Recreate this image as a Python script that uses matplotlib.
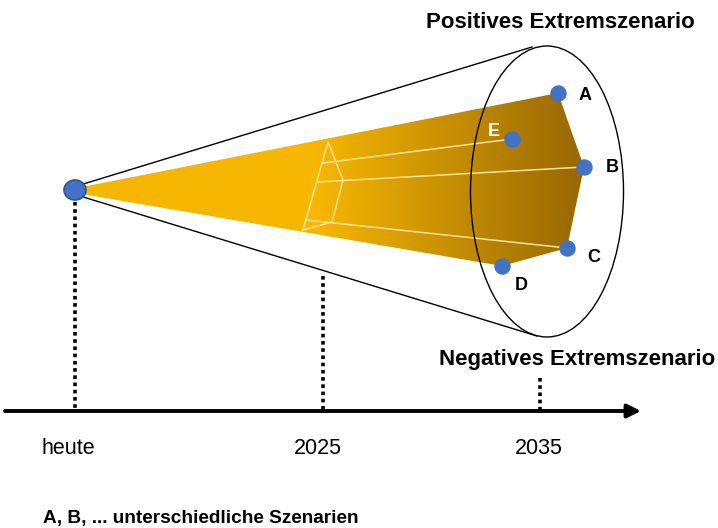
import matplotlib
matplotlib.use('Agg')
import matplotlib.pyplot as plt
import numpy as np
from matplotlib.patches import Polygon, Ellipse

plt.rcParams['font.family'] = ['Liberation Sans', 'DejaVu Sans']

# scenario end points (pixel space of the diagram)
scen_labels = ['A', 'B', 'C', 'D', 'E']
scen_x = [558, 584, 567, 502, 512]
scen_y = [93, 167, 248, 266, 139]
lab_x = [585, 612, 594, 521, 494]
lab_y = [96, 168, 257, 286, 131]
lab_col = ['black', 'black', 'black', 'black', 'white']

# time axis
time_labels = ['heute', '2025', '2035']
time_x = [75, 323, 540]
time_lab_x = [68, 318, 539]
dot_top = [202, 276, 378]
axis_y = 411

origin = (75, 190)

# funnel body (gold area)
body_x = [82, 558, 584, 567, 502, 82]
body_y = [187, 93, 167, 248, 266, 194]

# cross section at 2025 + lines to scenarios
sect_x = [303, 328, 343, 332, 303]
sect_y = [230, 142, 180, 222, 230]
ray_start_x = [323, 317, 306]
ray_start_y = [163, 182, 220]
ray_end = ['E', 'B', 'C']

fig = plt.figure(figsize=(7.18, 5.28), dpi=100)
ax = fig.add_axes([0, 0, 1, 1])
ax.set_xlim(0, 718)
ax.set_ylim(528, 0)
ax.axis('off')

# gradient fill clipped to the body polygon
xs = np.linspace(0, 718, 718)
c1 = np.array([247, 183, 0]) / 255
c2 = np.array([148, 101, 4]) / 255
t = np.clip((xs - 315) / (592 - 315), 0, 1)
row = c1[None, :] * (1 - t[:, None]) + c2[None, :] * t[:, None]
img = np.repeat(row[None, :, :], 2, axis=0)
im = ax.imshow(img, extent=(0, 718, 528, 0), aspect='auto', zorder=1)
body = Polygon(np.column_stack([body_x, body_y]), closed=True,
               facecolor='none', edgecolor='none')
ax.add_patch(body)
im.set_clip_path(body)

# white construction lines
ax.plot(sect_x, sect_y, color='#FFE39A', lw=1.1, zorder=2)
for sx, sy, name in zip(ray_start_x, ray_start_y, ray_end):
    i = scen_labels.index(name)
    ax.plot([sx, scen_x[i]], [sy, scen_y[i]], color='#FFE39A', lw=1.1, zorder=2)

# cone outline and ellipse
ax.plot([80, 532], [185, 47], color='black', lw=1, zorder=3)
ax.plot([80, 537], [196, 336], color='black', lw=1, zorder=3)
ax.add_patch(Ellipse((547, 191.5), 153, 291, fill=False,
                     edgecolor='black', lw=1, zorder=3))

# dotted time markers and axis
for x, top in zip(time_x, dot_top):
    ax.plot([x, x], [top, axis_y], color='black', lw=2.6,
            linestyle=(0, (1, 1)), zorder=2)
ax.annotate('', xy=(641, axis_y), xytext=(5, axis_y),
            arrowprops=dict(arrowstyle='-|>', lw=2.8, color='black',
                            mutation_scale=20, shrinkA=0, shrinkB=0))

# points
ax.add_patch(Ellipse(origin, 22, 20, facecolor='#4472C4',
                     edgecolor='#2F5597', lw=1.2, zorder=5))
ax.scatter(scen_x, scen_y, s=140, color='#4472C4', zorder=5,
           linewidths=0)

for lx, ly, l, c in zip(lab_x, lab_y, scen_labels, lab_col):
    ax.text(lx, ly, l, color=c, fontsize=13, fontweight='bold',
            ha='center', va='center', zorder=6)

for x, l in zip(time_lab_x, time_labels):
    ax.text(x, 448, l, fontsize=15.5, ha='center', va='center')

ax.text(560, 23, 'Positives Extremszenario', fontsize=16,
        fontweight='bold', ha='center', va='center')
ax.text(577, 359, 'Negatives Extremszenario', fontsize=16,
        fontweight='bold', ha='center', va='center')
ax.text(43, 519, 'A, B, ... unterschiedliche Szenarien', fontsize=13.7,
        fontweight='bold', ha='left', va='center')

fig.savefig('out.png', dpi=100)
